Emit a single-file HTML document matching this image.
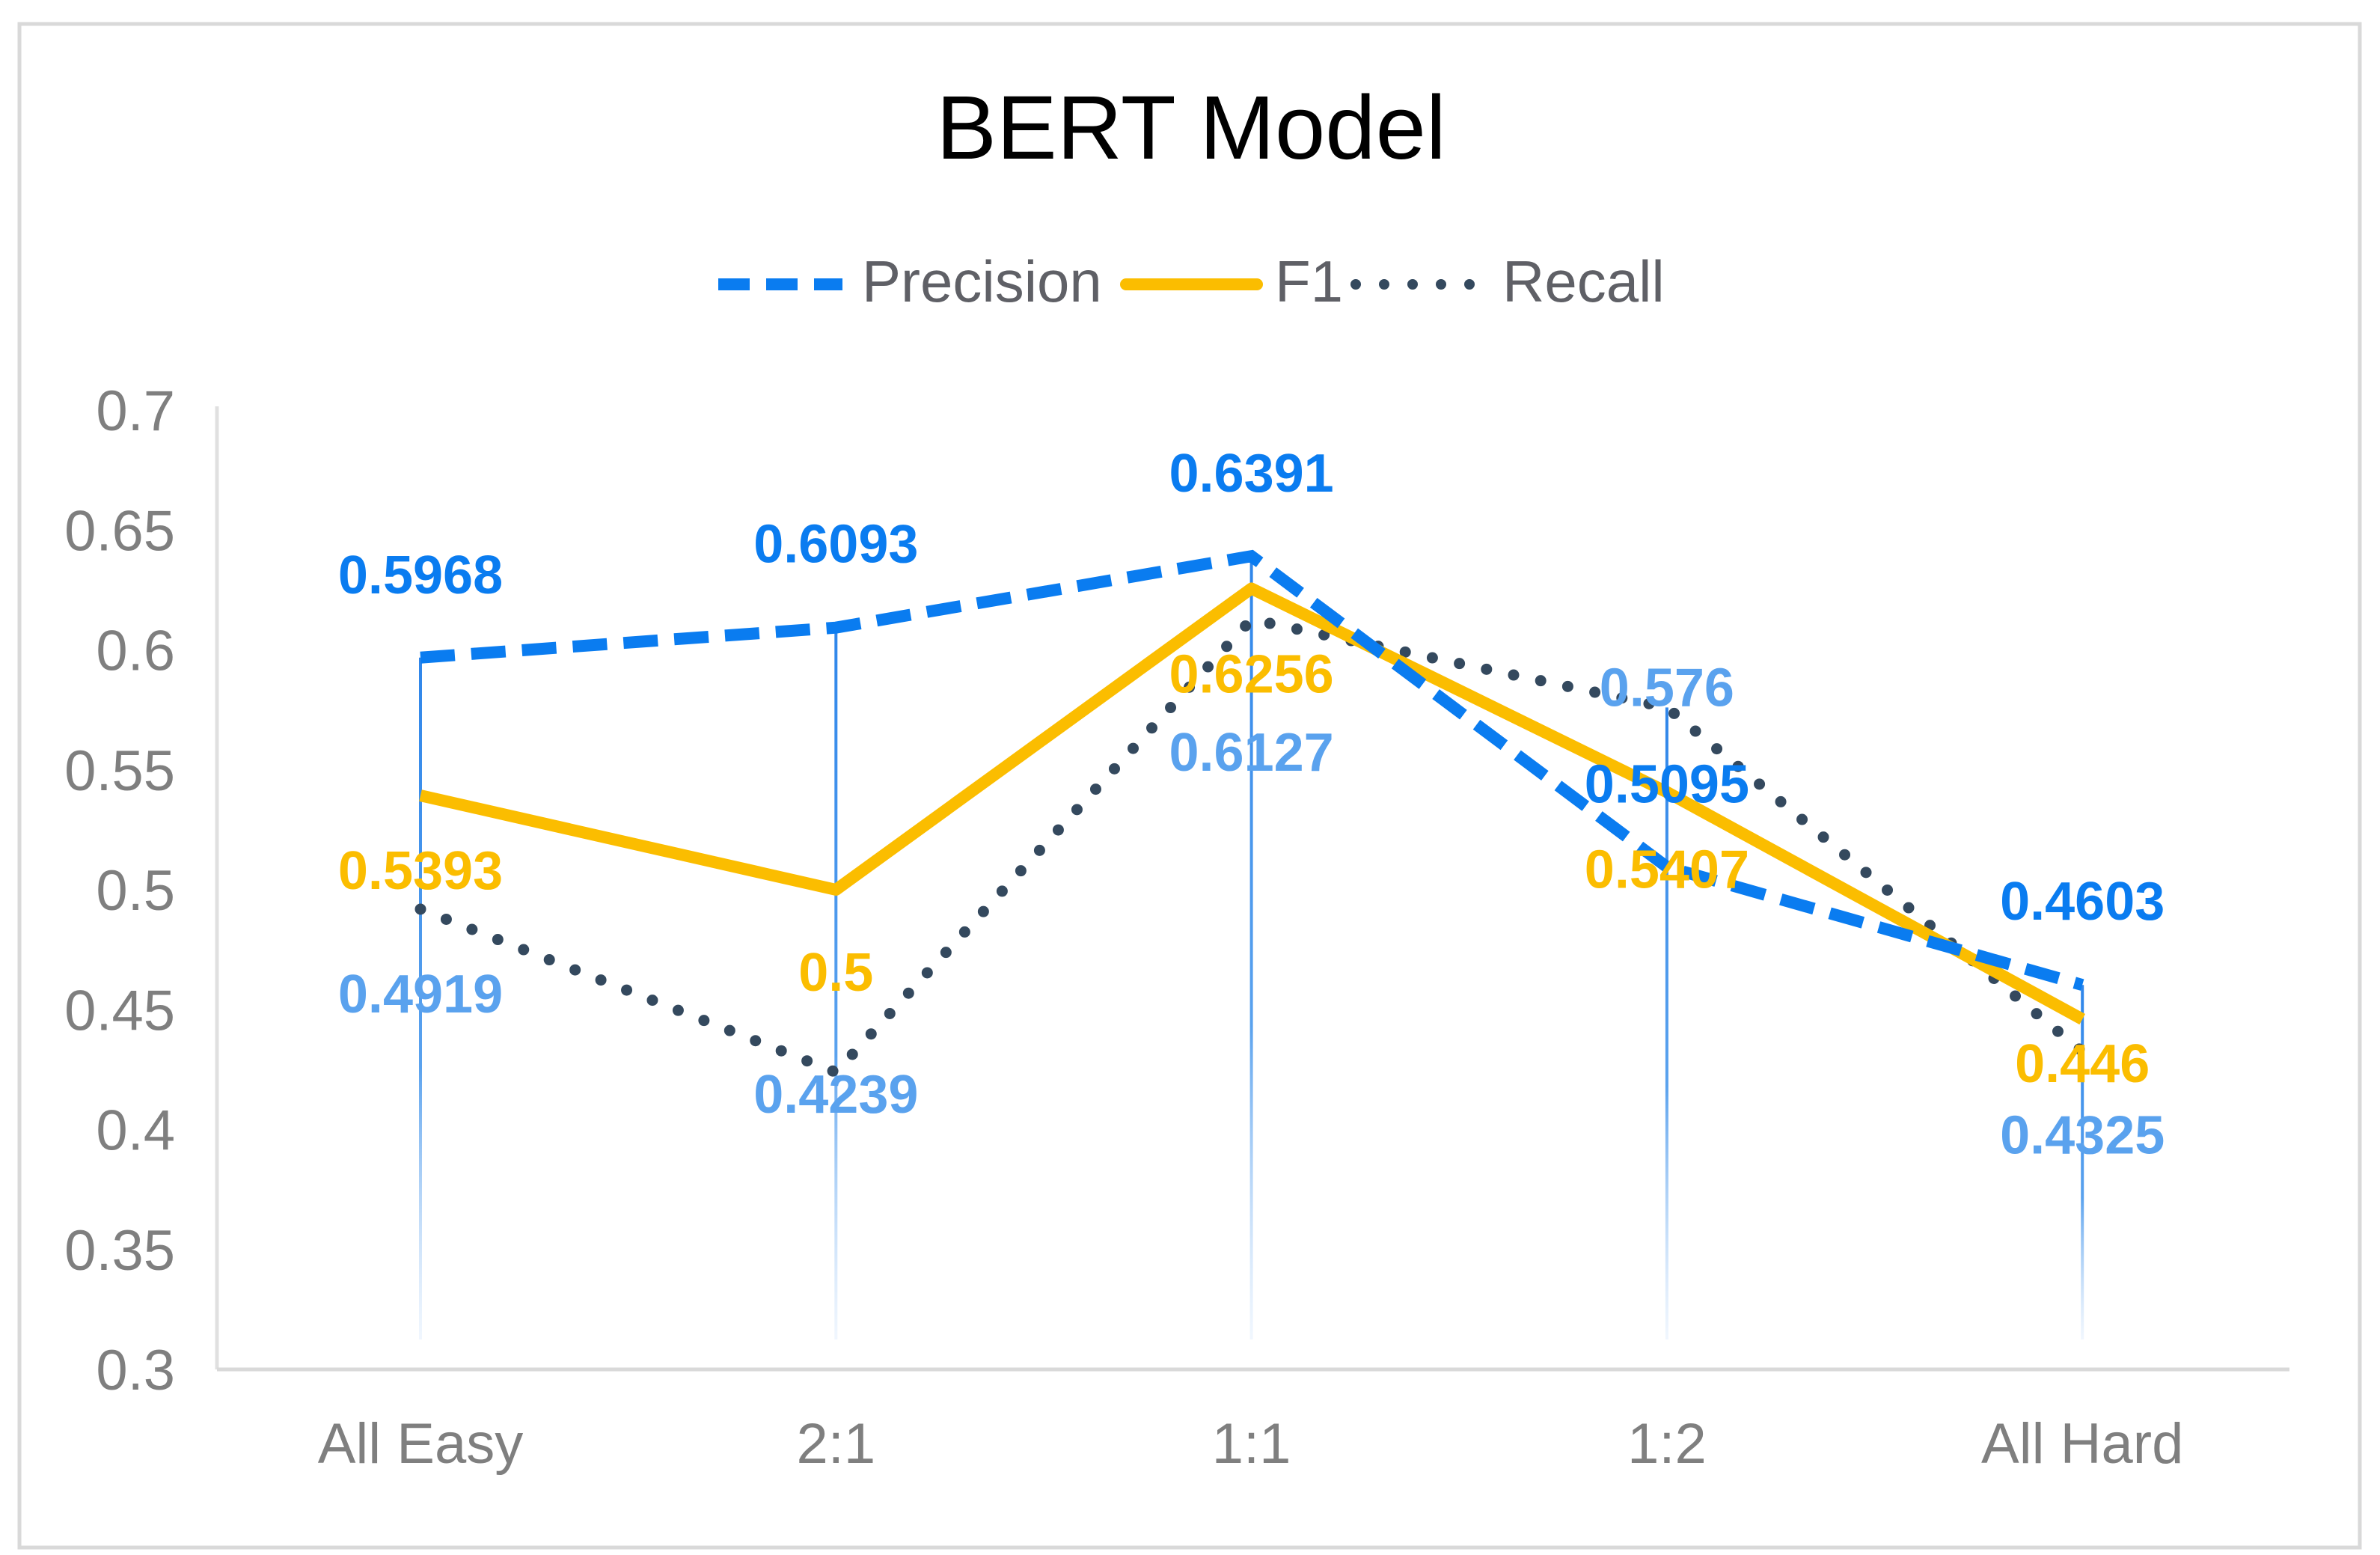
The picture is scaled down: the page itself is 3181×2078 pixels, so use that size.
<!DOCTYPE html>
<html><head><meta charset="utf-8"><style>
html,body{margin:0;padding:0;background:#fff;}
svg{display:block;}
</style></head><body>
<svg id="chart" width="3181" height="2078" viewBox="0 0 3181 2078" xmlns="http://www.w3.org/2000/svg" font-family="'Liberation Sans', sans-serif">
<defs>
<linearGradient id="dropGrad" x1="0" y1="0" x2="0" y2="1">
<stop offset="0" stop-color="#2f86ea"/><stop offset="0.6" stop-color="#5aa2ee"/><stop offset="1" stop-color="#cfe3fb" stop-opacity="0.3"/>
</linearGradient>
</defs>
<rect x="26" y="32" width="3128" height="2036" fill="#fff" stroke="#d9d9d9" stroke-width="5"/>
<text x="1592" y="212" text-anchor="middle" font-size="121" fill="#000">BERT Model</text>
<g>
<g>
<line x1="960" y1="380" x2="1126" y2="380" stroke="#0a7cf0" stroke-width="16" stroke-dasharray="42,22"/>
<text x="1152" y="403" font-size="78" fill="#5f6066">Precision</text></g>
<g>
<line x1="1505" y1="380" x2="1680" y2="380" stroke="#fbbd00" stroke-width="16" stroke-linecap="round"/>
<text x="1704" y="403" font-size="78" fill="#5f6066">F1</text></g>
<g>
<line x1="1812" y1="380" x2="1972" y2="380" stroke="#34495e" stroke-width="14" stroke-linecap="round" stroke-dasharray="0,38"/>
<text x="2008" y="403" font-size="78" fill="#5f6066">Recall</text></g>
</g>
<g id="plot"></g>
</svg>
<script>
const categories = ["All Easy","2:1","1:1","1:2","All Hard"];
const precision = [0.5968,0.6093,0.6391,0.5095,0.4603];
const f1 = [0.5393,0.5,0.6256,0.5407,0.446];
const recall = [0.4919,0.4239,0.6127,0.576,0.4325];
const yTicks = [0.3,0.35,0.4,0.45,0.5,0.55,0.6,0.65,0.7];
const yTickLabels = ["0.3","0.35","0.4","0.45","0.5","0.55","0.6","0.65","0.7"];
// label offsets (px) relative to point
const precDy = [-112,-113,-112,-112,-113];
const f1Dy = [99,109,113,102,58];
const recDy = [112,28,176,-28,110];

const NS="http://www.w3.org/2000/svg";
const plot=document.getElementById('plot');
const yMin=0.3,yMax=0.7,yTop=548,yBot=1830;
function y(v){return yBot-(v-yMin)/(yMax-yMin)*(yBot-yTop);}
function x(i){return 562+i*555.3;}
function mk(tag,attrs,parent){const e=document.createElementNS(NS,tag);for(const k in attrs)e.setAttribute(k,attrs[k]);(parent||plot).appendChild(e);return e;}

const ax=mk('line',{x1:290,y1:yTop-5,x2:290,y2:yBot,stroke:'#e0e0e0','stroke-width':5});


const bx=mk('line',{x1:290,y1:yBot,x2:3060,y2:yBot,stroke:'#d9d9d9','stroke-width':5});



yTicks.forEach((t,i)=>{
  const e=mk('text',{x:234,y:y(t)+27,'text-anchor':'end','font-size':76,fill:'#7f7f7f'});
  e.textContent=yTickLabels[i];
  
  
});
categories.forEach((c,i)=>{
  const e=mk('text',{x:x(i),y:1955,'text-anchor':'middle','font-size':76,fill:'#7f7f7f'});
  e.textContent=c;
  
  
});
categories.forEach((c,i)=>{
  const top=Math.max(precision[i],f1[i],recall[i]);
  const e=mk('rect',{x:x(i)-2,y:y(top),width:4,height:1790-y(top),fill:'url(#dropGrad)'});
  
  
});
function pts(arr){return arr.map((v,i)=>x(i)+','+y(v)).join(' ');}
const lr=mk('polyline',{points:pts(recall),fill:'none',stroke:'#34495e','stroke-width':15,'stroke-linecap':'round','stroke-dasharray':'0,37'});


const lf=mk('polyline',{points:pts(f1),fill:'none',stroke:'#fbbd00','stroke-width':16,'stroke-linejoin':'round'});


const lp=mk('polyline',{points:pts(precision),fill:'none',stroke:'#0a7cf0','stroke-width':16,'stroke-dasharray':'46,22'});



function labels(arr,dy,color,name){
  arr.forEach((v,i)=>{
    const e=mk('text',{x:x(i),y:y(v)+dy[i]+26,'text-anchor':'middle','font-size':72,'font-weight':'bold',fill:color});
    e.textContent=String(v);
    
    
  });
}
labels(precision,precDy,'#0a7cf0','precision-value-label');
labels(f1,f1Dy,'#fbbd00','f1-value-label');
labels(recall,recDy,'#5aa2ee','recall-value-label');
</script>
</body></html>
